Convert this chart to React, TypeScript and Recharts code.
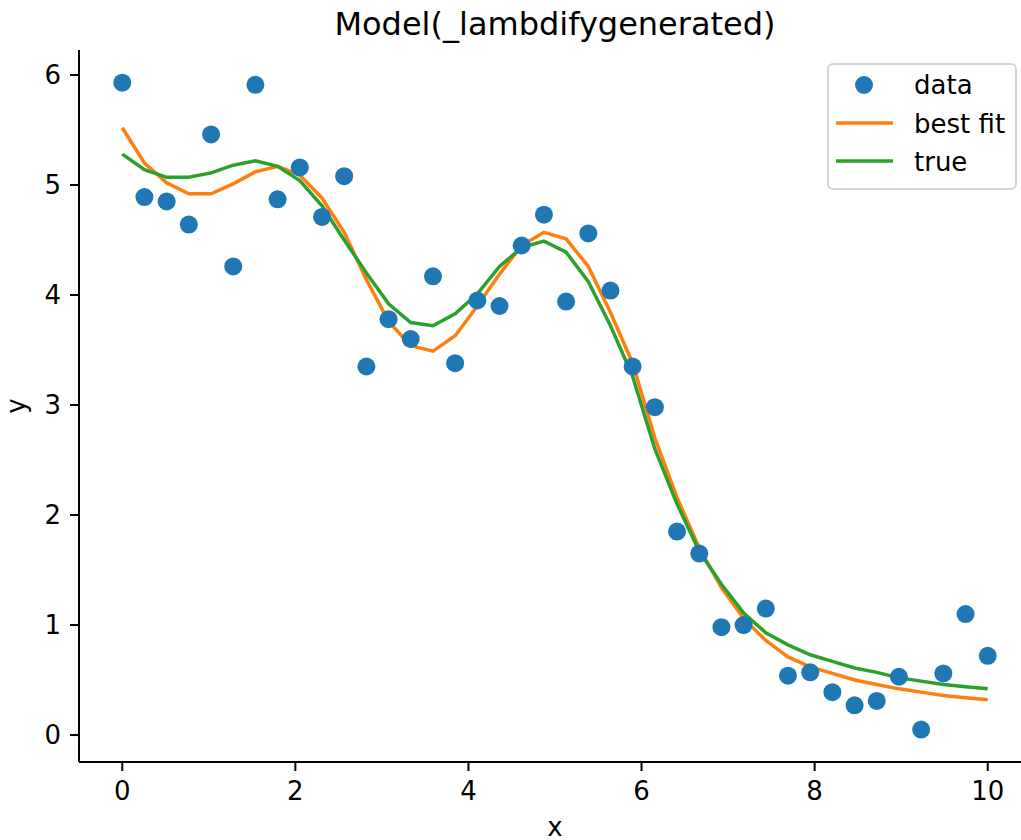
import React from "react";
import {
  ComposedChart,
  Line,
  Scatter,
  XAxis,
  YAxis,
  Legend,
} from "recharts";

// x = linspace(0, 10, 40)
const xs = [
  0, 0.256, 0.513, 0.769, 1.026, 1.282, 1.538, 1.795, 2.051, 2.308,
  2.564, 2.821, 3.077, 3.333, 3.59, 3.846, 4.103, 4.359, 4.615, 4.872,
  5.128, 5.385, 5.641, 5.897, 6.154, 6.41, 6.667, 6.923, 7.179, 7.436,
  7.692, 7.949, 8.205, 8.462, 8.718, 8.974, 9.231, 9.487, 9.744, 10,
];

const observed = [
  5.93, 4.89, 4.85, 4.64, 5.46, 4.26, 5.91, 4.87, 5.16, 4.71,
  5.08, 3.35, 3.78, 3.6, 4.17, 3.38, 3.95, 3.9, 4.45, 4.73,
  3.94, 4.56, 4.04, 3.35, 2.98, 1.85, 1.65, 0.98, 1.0, 1.15,
  0.54, 0.57, 0.39, 0.27, 0.31, 0.53, 0.05, 0.56, 1.1, 0.72,
];

const bestFit = [
  5.52, 5.2, 5.02, 4.92, 4.92, 5.01, 5.12, 5.17, 5.09, 4.88,
  4.57, 4.14, 3.76, 3.54, 3.49, 3.63, 3.9, 4.19, 4.45, 4.57,
  4.51, 4.26, 3.84, 3.38, 2.7, 2.16, 1.7, 1.34, 1.06, 0.86,
  0.71, 0.62, 0.56, 0.5, 0.46, 0.42, 0.39, 0.36, 0.34, 0.32,
];

const trueCurve = [
  5.28, 5.14, 5.07, 5.07, 5.11, 5.18, 5.22, 5.17, 5.04, 4.81,
  4.5, 4.2, 3.92, 3.75, 3.72, 3.83, 4.01, 4.26, 4.43, 4.49,
  4.39, 4.12, 3.72, 3.26, 2.6, 2.1, 1.67, 1.37, 1.11, 0.93,
  0.82, 0.73, 0.67, 0.61, 0.57, 0.52, 0.49, 0.46, 0.44, 0.42,
];

const xTicks = [0, 2, 4, 6, 8, 10];
const yTicks = [0, 1, 2, 3, 4, 5, 6];

const rows = xs.map((x, i) => ({
  x,
  data: observed[i],
  fit: bestFit[i],
  truth: trueCurve[i],
}));

const FONT = "DejaVu Sans, sans-serif";
const BLUE = "#1f77b4";
const ORANGE = "#ff7f0e";
const GREEN = "#2ca02c";

const tickStyle = { fill: "#000", fontSize: 26, fontFamily: FONT };

function LegendBox() {
  return (
    <svg width={190} height={127} style={{ display: "block" }}>
      <rect x={1} y={1} width={188} height={125} rx={5} fill="#fff" fillOpacity={0.8} stroke="#d4d4d4" strokeWidth={2} />
      <circle cx={37} cy={22} r={9} fill={BLUE} />
      <line x1={9} x2={66} y1={60} y2={60} stroke={ORANGE} strokeWidth={3.5} />
      <line x1={9} x2={66} y1={98} y2={98} stroke={GREEN} strokeWidth={3.5} />
      <text x={87} y={31} fontSize={26} fontFamily={FONT} fill="#000">data</text>
      <text x={87} y={70} fontSize={26} fontFamily={FONT} fill="#000">best fit</text>
      <text x={87} y={108} fontSize={26} fontFamily={FONT} fill="#000">true</text>
    </svg>
  );
}

function XLabel() {
  return (
    <text x={555} y={836} textAnchor="middle" fontSize={26} fontFamily={FONT} fill="#000">
      x
    </text>
  );
}

function YLabel() {
  return (
    <text x={25} y={406} transform="rotate(-90 25 406)" textAnchor="middle" fontSize={26} fontFamily={FONT} fill="#000">
      y
    </text>
  );
}

export default function App() {
  return (
    <div
      style={{
        position: "absolute",
        left: 0,
        top: 0,
        width: 1021,
        height: 840,
        overflow: "hidden",
        background: "#fff",
        fontFamily: FONT,
      }}
    >
      <div
        style={{
          position: "absolute",
          left: 0,
          width: 1110,
          top: 8,
          textAlign: "center",
          fontSize: 32,
          lineHeight: 1,
          color: "#000",
        }}
      >
        Model(_lambdifygenerated)
      </div>
      <ComposedChart
        width={1045}
        height={860}
        data={rows}
        margin={{ top: 50, right: 14, bottom: 0, left: 0 }}
      >
        <XAxis
          dataKey="x"
          type="number"
          domain={[-0.5, 10.5]}
          ticks={xTicks}
          allowDataOverflow
          height={98}
          tickSize={9}
          tickMargin={11}
          stroke="#000"
          strokeWidth={2}
          tick={tickStyle}
          label={<XLabel />}
        />
        <XAxis
          xAxisId="top"
          orientation="top"
          type="number"
          domain={[-0.5, 10.5]}
          height={0}
          tick={false}
          tickLine={false}
          stroke="#000"
          strokeWidth={2}
        />
        <YAxis
          type="number"
          domain={[-0.245, 6.227]}
          ticks={yTicks}
          allowDataOverflow
          width={79}
          tickSize={9}
          tickMargin={9}
          stroke="#000"
          strokeWidth={2}
          tick={tickStyle}
          label={<YLabel />}
        />
        <Scatter
          dataKey="data"
          fill={BLUE}
          isAnimationActive={false}
          shape={(p: any) => <circle cx={p.cx} cy={p.cy} r={9} fill={BLUE} />}
        />
        <Line
          type="linear"
          dataKey="fit"
          stroke={ORANGE}
          strokeWidth={3.5}
          dot={false}
          activeDot={false}
          isAnimationActive={false}
        />
        <Line
          type="linear"
          dataKey="truth"
          stroke={GREEN}
          strokeWidth={3.5}
          dot={false}
          activeDot={false}
          isAnimationActive={false}
        />
        <Legend
          layout="vertical"
          align="center"
          verticalAlign="middle"
          content={() => <LegendBox />}
          wrapperStyle={{ left: 827, top: 63, width: 190, height: 127 }}
        />
      </ComposedChart>
    </div>
  );
}
